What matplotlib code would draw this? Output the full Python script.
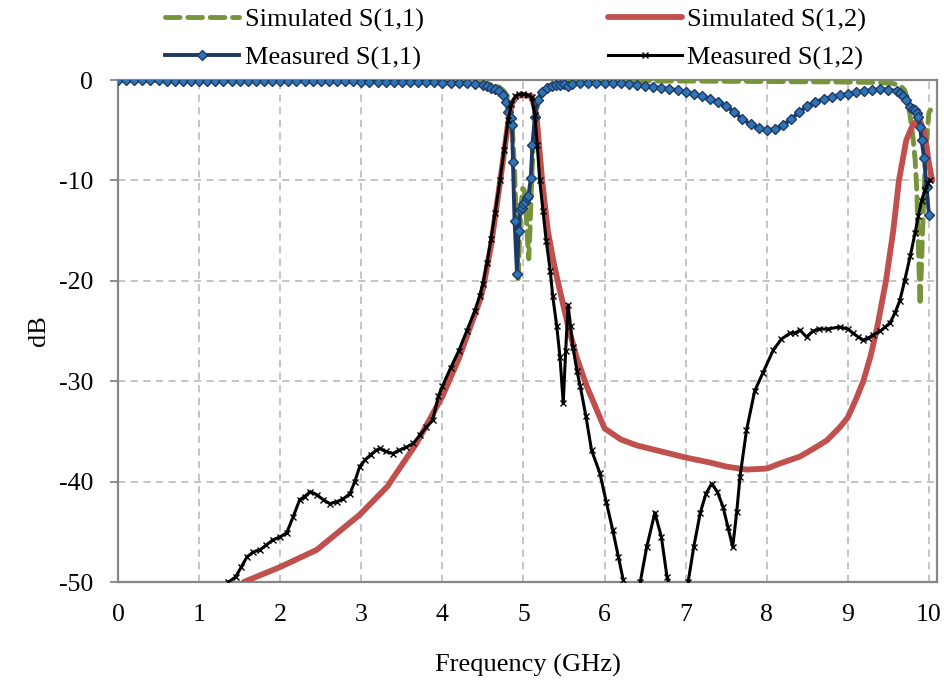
import numpy as np
import matplotlib
matplotlib.use('Agg')
import matplotlib.pyplot as plt

plt.rcParams['font.family'] = ['Liberation Serif', 'DejaVu Serif']
plt.rcParams['axes.unicode_minus'] = False

# Measured S(1,1)
meas_s11_f = [0.0, 0.1, 0.2, 0.3, 0.4, 0.5, 0.6, 0.7, 0.8, 0.9, 1.0, 1.1, 1.2, 1.3, 1.4, 1.5,
              1.6, 1.7, 1.8, 1.9, 2.0, 2.1, 2.2, 2.3, 2.4, 2.5, 2.6, 2.7, 2.8, 2.9, 3.0, 3.1,
              3.2, 3.3, 3.4, 3.5, 3.6, 3.7, 3.8, 3.9, 4.0, 4.1, 4.2, 4.3, 4.4, 4.5, 4.55, 4.6,
              4.65, 4.7, 4.75, 4.79, 4.81, 4.84, 4.86, 4.87, 4.89, 4.92, 4.94, 4.96, 4.98, 5.0,
              5.02, 5.04, 5.06, 5.09, 5.11, 5.14, 5.18, 5.23, 5.29, 5.35, 5.4, 5.45, 5.5, 5.55,
              5.6, 5.7, 5.8, 5.9, 6.0, 6.1, 6.2, 6.3, 6.4, 6.5, 6.6, 6.7, 6.8, 6.9, 7.0, 7.1,
              7.2, 7.3, 7.4, 7.5, 7.6, 7.7, 7.8, 7.9, 8.0, 8.1, 8.2, 8.3, 8.4, 8.5, 8.6, 8.7,
              8.8, 8.9, 9.0, 9.1, 9.2, 9.3, 9.4, 9.5, 9.6, 9.64, 9.68, 9.72, 9.77, 9.8, 9.83,
              9.85, 9.87, 9.89, 9.91, 9.94, 9.97, 10.0]
meas_s11_db = [0.00, -0.02, -0.03, -0.03, -0.04, -0.04, -0.05, -0.05, -0.05, -0.06, -0.06, -0.07,
               -0.07, -0.08, -0.08, -0.08, -0.09, -0.09, -0.10, -0.10, -0.10, -0.11, -0.11, -0.12,
               -0.12, -0.12, -0.13, -0.13, -0.14, -0.14, -0.15, -0.16, -0.17, -0.18, -0.19, -0.20,
               -0.21, -0.22, -0.23, -0.24, -0.25, -0.27, -0.30, -0.34, -0.40, -0.50, -0.6, -0.75,
               -0.9, -1.1, -1.5, -2.2, -3.2, -3.8, -4.5, -8.2, -14.0, -19.3, -15.0, -12.9, -12.7,
               -12.3, -12.1, -11.8, -11.6, -9.8, -6.5, -3.7, -2.0, -1.2, -0.8, -0.6, -0.5, -0.45,
               -0.4, -0.6, -0.4, -0.3, -0.3, -0.3, -0.3, -0.3, -0.3, -0.4, -0.5, -0.6, -0.7, -0.8,
               -0.9, -1.0, -1.2, -1.4, -1.6, -1.9, -2.2, -2.6, -3.2, -3.9, -4.4, -4.8, -5.0, -4.9,
               -4.5, -3.9, -3.2, -2.6, -2.2, -1.9, -1.7, -1.5, -1.4, -1.2, -1.1, -1.0, -0.9, -0.95,
               -1.1, -1.3, -1.6, -2.0, -2.7, -2.9, -3.0, -3.3, -3.7, -4.7, -6.0, -7.8, -10.7, -13.4]

# Simulated S(1,1)
sim_s11_f = [0.0, 1.0, 2.0, 3.0, 4.0, 4.5, 4.6, 4.7, 4.76, 4.8, 4.83, 4.86, 4.89, 4.91, 4.935,
             4.95, 4.97, 4.99, 5.01, 5.03, 5.05, 5.065, 5.08, 5.1, 5.12, 5.15, 5.18, 5.22, 5.3,
             5.4, 5.6, 6.0, 7.0, 8.0, 9.0, 9.4, 9.55, 9.64, 9.7, 9.74, 9.77, 9.8, 9.83, 9.85,
             9.87, 9.89, 9.91, 9.93, 9.96, 10.0, 10.02]
sim_s11_db = [0.0, -0.01, -0.02, -0.04, -0.1, -0.3, -0.45, -0.7, -1.1, -1.6, -2.5, -4.5, -9.0,
              -14.0, -20.0, -16.0, -12.5, -10.8, -11.0, -13.0, -16.0, -17.8, -15.0, -10.0, -6.5,
              -3.5, -2.2, -1.3, -0.6, -0.35, -0.2, -0.1, -0.1, -0.15, -0.2, -0.25, -0.35, -0.5,
              -1.0, -2.0, -3.7, -5.5, -8.0, -11.0, -16.6, -22.4, -18.0, -13.0, -7.0, -3.2, -3.0]

# Simulated S(1,2)
sim_s12_f = [1.55, 2.0, 2.45, 2.98, 3.32, 3.68, 4.0, 4.2, 4.46, 4.5, 4.6, 4.71, 4.81, 4.86, 4.92,
             5.0, 5.1, 5.16, 5.23, 5.3, 5.38, 5.45, 5.55, 5.65, 5.78, 6.0, 6.2, 6.4, 6.7, 7.0,
             7.3, 7.5, 7.75, 8.0, 8.16, 8.41, 8.6, 8.74, 8.9, 9.0, 9.1, 9.19, 9.28, 9.36, 9.47,
             9.56, 9.63, 9.72, 9.8, 9.88, 9.95, 10.0, 10.04]
sim_s12_db = [-50.0, -48.5, -46.8, -43.3, -40.5, -36.2, -31.5, -27.8, -22.0, -20.8, -16.5, -10.2,
              -4.3, -2.3, -1.6, -1.5, -1.6, -3.5, -10.0, -15.0, -18.5, -21.0, -24.5, -27.5, -30.5,
              -34.7, -35.8, -36.4, -37.0, -37.6, -38.1, -38.5, -38.8, -38.7, -38.2, -37.5, -36.6,
              -35.9, -34.6, -33.6, -31.8, -30.0, -27.5, -24.7, -20.0, -15.0, -10.0, -6.0, -4.5,
              -3.8, -5.5, -8.3, -10.0]

# Measured S(1,2)
meas_s12_f = [1.36, 1.45, 1.52, 1.59, 1.67, 1.75, 1.83, 1.91, 2.0, 2.08, 2.16, 2.24, 2.3, 2.37,
              2.45, 2.53, 2.61, 2.7, 2.78, 2.86, 2.92, 2.98, 3.05, 3.12, 3.18, 3.23, 3.3, 3.39,
              3.46, 3.55, 3.64, 3.72, 3.8, 3.88, 3.95, 4.0, 4.1, 4.2, 4.3, 4.4, 4.46, 4.5, 4.55,
              4.6, 4.65, 4.71, 4.76, 4.81, 4.85, 4.9, 4.95, 5.0, 5.05, 5.1, 5.14, 5.17, 5.2,
              5.24, 5.28, 5.33, 5.36, 5.41, 5.45, 5.49, 5.52, 5.55, 5.58, 5.61, 5.66, 5.7, 5.77,
              5.84, 5.94, 6.02, 6.1, 6.17, 6.23, 6.3, 6.37, 6.44, 6.52, 6.62, 6.7, 6.77, 6.85,
              6.95, 7.03, 7.1, 7.18, 7.25, 7.32, 7.39, 7.46, 7.52, 7.58, 7.63, 7.67, 7.75, 7.85,
              7.95, 8.08, 8.18, 8.29, 8.35, 8.41, 8.49, 8.57, 8.65, 8.75, 8.9, 9.0, 9.06, 9.13,
              9.19, 9.25, 9.31, 9.4, 9.46, 9.52, 9.58, 9.64, 9.7, 9.77, 9.83, 9.87, 9.91, 9.95,
              9.99, 10.01]
meas_s12_db = [-50.0, -49.5, -48.5, -47.5, -47.0, -46.8, -46.3, -45.8, -45.5, -45.1, -43.5, -41.8,
               -41.5, -41.0, -41.3, -41.8, -42.2, -42.0, -41.7, -41.2, -40.0, -38.5, -37.8, -37.3,
               -36.9, -36.7, -37.0, -37.2, -36.9, -36.6, -36.2, -35.4, -34.6, -33.9, -31.5, -30.5,
               -28.7, -27.0, -25.0, -23.0, -21.5, -20.3, -18.2, -15.8, -13.2, -10.0, -7.0, -4.0,
               -2.4, -1.6, -1.4, -1.4, -1.5, -1.7, -3.5, -6.5, -10.0, -13.0, -16.0, -19.0, -21.5,
               -24.5, -27.6, -32.2, -27.0, -22.4, -24.5, -26.6, -29.0, -30.5, -33.5, -36.9, -39.1,
               -42.0, -44.8, -47.5, -49.8, -52.0, -52.0, -50.0, -46.5, -43.1, -45.5, -49.5, -52.0,
               -52.0, -50.0, -46.5, -43.1, -41.2, -40.2, -41.0, -42.5, -44.5, -46.5, -43.0, -39.5,
               -34.9, -31.0, -29.2, -26.9, -25.8, -25.2, -25.2, -24.9, -25.6, -25.0, -24.8, -24.8,
               -24.6, -24.8, -25.2, -25.6, -25.9, -25.7, -25.4, -25.0, -24.6, -24.2, -23.2, -22.0,
               -20.0, -17.5, -15.2, -13.5, -12.0, -11.0, -10.3, -10.0]

x_ticks = [0, 1, 2, 3, 4, 5, 6, 7, 8, 9, 10]
y_ticks = [0, -10, -20, -30, -40, -50]

fig = plt.figure(figsize=(9.45, 6.84), dpi=100)
ax = fig.add_axes([0.1249, 0.1491, 0.8667, 0.7339])

l1, = ax.plot(sim_s11_f, sim_s11_db, color='#77933C', lw=3.5, dashes=(3, 1.6),
              dash_capstyle='round', label='Simulated S(1,1)', zorder=3)
l2, = ax.plot(sim_s12_f, sim_s12_db, color='#C0504D', lw=4.2, label='Simulated S(1,2)',
              solid_capstyle='round', zorder=4)
l3, = ax.plot(meas_s11_f, meas_s11_db, color='#1F3864', lw=2.8, marker='D', markersize=5,
              markerfacecolor='#2E75B6', markeredgecolor='#1F3864', markeredgewidth=1.0,
              label='Measured S(1,1)', zorder=5)
l4, = ax.plot(meas_s12_f, meas_s12_db, color='black', lw=2.2, marker='x', markersize=5,
              markeredgewidth=1.0, label='Measured S(1,2)', zorder=6)

ax.set_xlim(0, 10.1)
ax.set_ylim(-50, 0)
ax.set_xticks(x_ticks)
ax.set_yticks(y_ticks)
ax.grid(True, color='#BFBFBF', linestyle=(0, (4, 3)), linewidth=1.3)
ax.set_axisbelow(True)
for s in ax.spines.values():
    s.set_color('#868686')
    s.set_linewidth(1.6)
ax.tick_params(axis='x', length=0, pad=16, labelsize=18.5)
ax.tick_params(axis='y', length=6, width=1.3, color='#868686', pad=12, labelsize=18.5)

ax.set_xlabel('Frequency (GHz)', fontsize=19, labelpad=20)
ax.set_ylabel('dB', fontsize=19, labelpad=6)

fig.legend(handles=[l1, l3, l2, l4], ncol=2, loc='upper center',
           bbox_to_anchor=(0.546, 1.012), frameon=False, fontsize=19,
           handlelength=2.8, handletextpad=0.2, columnspacing=7.0,
           labelspacing=0.55, borderpad=0.1)

fig.savefig('out.png', dpi=100)
